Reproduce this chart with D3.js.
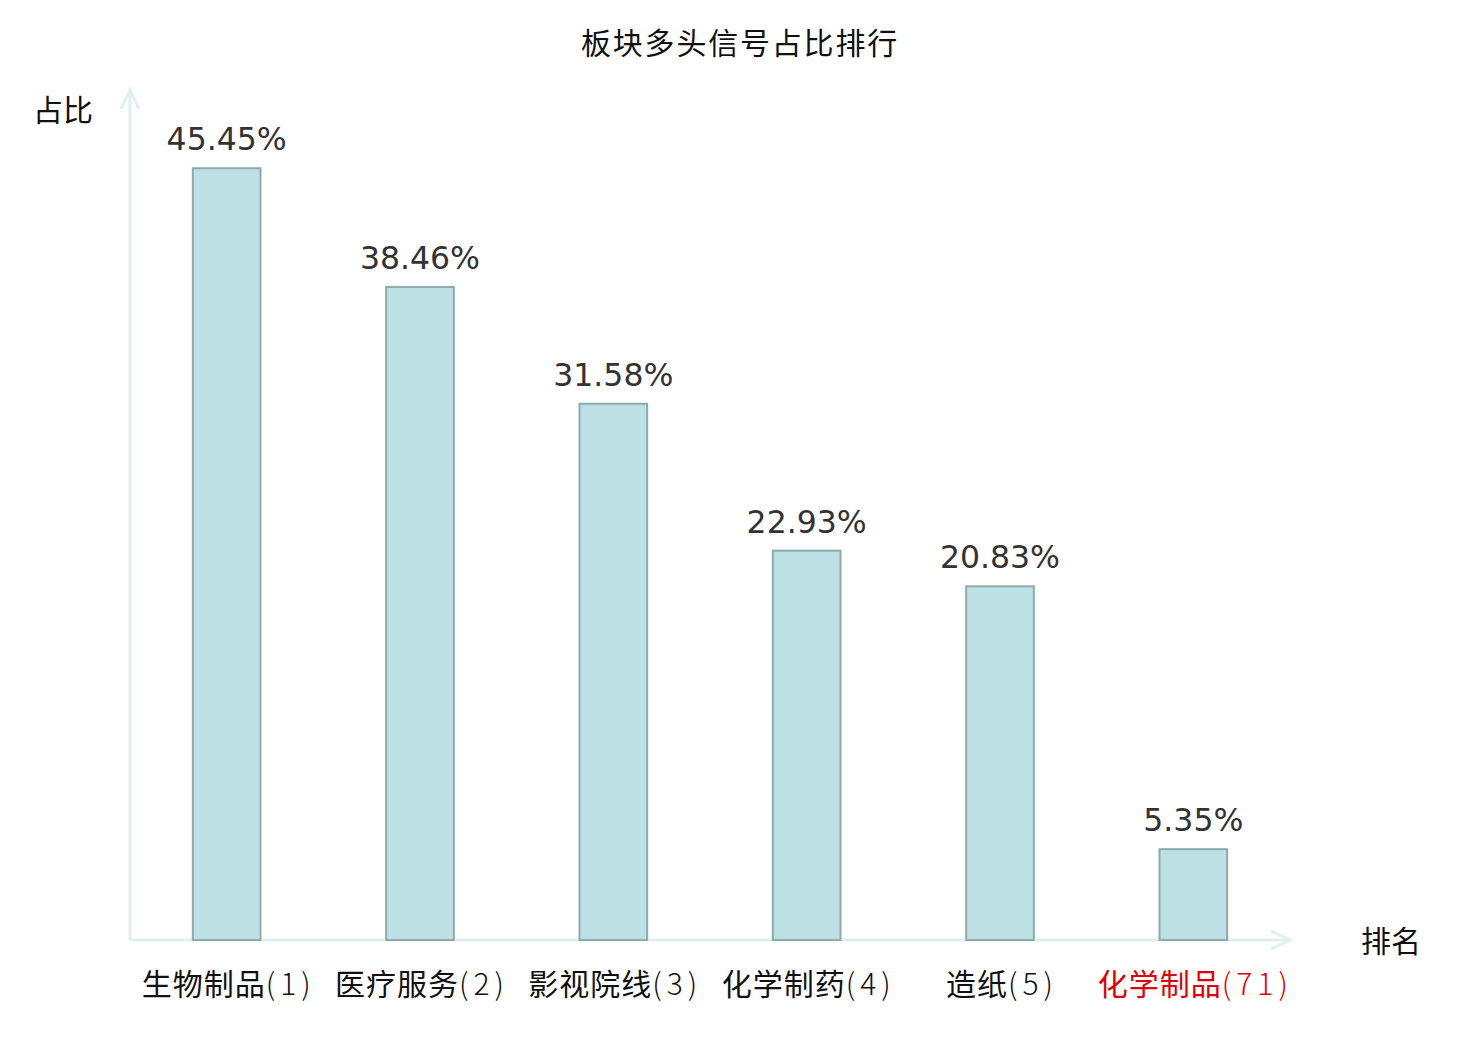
<!DOCTYPE html>
<html>
<head>
<meta charset="utf-8">
<script src="https://cdn.jsdelivr.net/npm/d3@7/dist/d3.min.js"></script>
<style>
  body { margin: 0; background: #fff; }
  svg { display: block; }
</style>
</head>
<body>
<div id="chart"></div>
<script>
var width = 1480, height = 1040;
var cjk = "'Noto Sans CJK SC', 'Noto Sans', sans-serif";
var numFont = "'DejaVu Sans', sans-serif";

var title = "板块多头信号占比排行";
var categories = ["生物制品", "医疗服务", "影视院线", "化学制药", "造纸", "化学制品"];
var ranks = ["1", "2", "3", "4", "5", "71"];
var values = [45.45, 38.46, 31.58, 22.93, 20.83, 5.35];
var highlight = [false, false, false, false, false, true];
var yLabel = "占比";
var xLabel = "排名";

var axisColor = "#dff1ee";
var barFill = "#bce0e3";
var barEdge = "#8eaaaa";

var svg = d3.select("#chart").append("svg")
  .attr("width", width)
  .attr("height", height);

var x = d3.scaleLinear().domain([-0.5, categories.length - 0.5]).range([130, 1290]);
var y = d3.scaleLinear().domain([0, 50]).range([940, 91]);
var barW = (x(1) - x(0)) * 0.35;

// title
svg.append("text")
  .attr("x", width / 2)
  .attr("y", 54)
  .attr("text-anchor", "middle")
  .style("font-family", cjk)
  .style("font-size", "30px")
  .style("letter-spacing", "1.8px")
  .attr("fill", "#111")
  .text(title);

// axes with open arrow heads
var axes = svg.append("g")
  .attr("stroke", axisColor)
  .attr("stroke-width", 3)
  .attr("fill", "none");
var x0 = x(-0.5), x1 = x(categories.length - 0.5);
axes.append("line").attr("x1", x0).attr("y1", y(0)).attr("x2", x0).attr("y2", y(50) - 1);
axes.append("line").attr("x1", x0).attr("y1", y(0)).attr("x2", x1).attr("y2", y(0));
axes.append("polyline")
  .attr("points", [[x0 - 9, y(50) + 18], [x0, y(50) - 1], [x0 + 9, y(50) + 18]].join(" "));
axes.append("polyline")
  .attr("points", [[x1 - 19, y(0) - 9], [x1, y(0)], [x1 - 19, y(0) + 9]].join(" "));

// bars
svg.selectAll("rect.bar")
  .data(values)
  .enter().append("rect")
  .attr("class", "bar")
  .attr("x", function(d, i) { return x(i) - barW / 2; })
  .attr("y", function(d) { return y(d); })
  .attr("width", barW)
  .attr("height", function(d) { return y(0) - y(d); })
  .attr("fill", barFill)
  .attr("stroke", barEdge)
  .attr("stroke-width", 2);

// value labels
svg.selectAll("text.val")
  .data(values)
  .enter().append("text")
  .attr("class", "val")
  .attr("x", function(d, i) { return x(i); })
  .attr("y", function(d) { return y(d) - 18; })
  .attr("text-anchor", "middle")
  .style("font-family", numFont)
  .style("font-size", "31.5px")
  .attr("fill", "#333")
  .text(function(d) { return d.toFixed(2) + "%"; });

// category labels: name + (rank)
var cat = svg.selectAll("text.cat")
  .data(categories)
  .enter().append("text")
  .attr("class", "cat")
  .attr("x", function(d, i) { return x(i) + 2; })
  .attr("y", 995)
  .attr("text-anchor", "middle")
  .style("font-family", cjk)
  .style("font-size", "30px")
  .attr("fill", function(d, i) { return highlight[i] ? "#e00000" : "#111"; });
cat.append("tspan")
  .style("letter-spacing", "1px")
  .text(function(d) { return d; });
cat.append("tspan")
  .style("font-weight", "300")
  .style("letter-spacing", "5px")
  .text(function(d, i) { return "(" + ranks[i] + ")"; });

// axis names
svg.append("text")
  .attr("x", 63).attr("y", 121)
  .attr("text-anchor", "middle")
  .style("font-family", cjk).style("font-size", "30px")
  .attr("fill", "#111")
  .text(yLabel);
svg.append("text")
  .attr("x", 1391).attr("y", 952)
  .attr("text-anchor", "middle")
  .style("font-family", cjk).style("font-size", "30px")
  .attr("fill", "#111")
  .text(xLabel);
</script>
</body>
</html>
